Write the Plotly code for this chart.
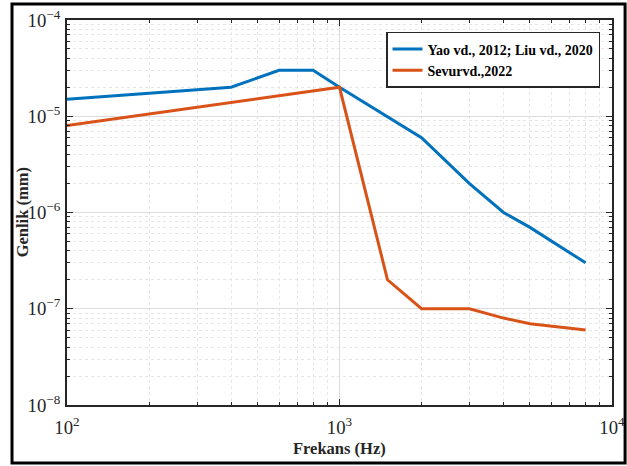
import plotly.graph_objects as go

freq_yao = [100, 400, 600, 800, 1000, 2000, 3000, 4000, 5000, 8000]
amp_yao = [1.5e-5, 2e-5, 3e-5, 3e-5, 2e-5, 6e-6, 2e-6, 1e-6, 7e-7, 3e-7]
freq_sevur = [100, 1000, 1500, 2000, 3000, 4000, 5000, 8000]
amp_sevur = [8e-6, 2e-5, 2e-7, 1e-7, 1e-7, 8e-8, 7e-8, 6e-8]
name_yao = "Yao vd., 2012; Liu vd., 2020"
name_sevur = "Sevurvd.,2022"
x_title = "Frekans (Hz)"
y_title = "Genlik (mm)"

FONT = "Liberation Serif"
fig = go.Figure()
fig.add_trace(go.Scatter(x=freq_yao, y=amp_yao, mode="lines", name="<b>" + name_yao + "</b>",
                         line=dict(color="#0072BD", width=3)))
fig.add_trace(go.Scatter(x=freq_sevur, y=amp_sevur, mode="lines", name="<b>" + name_sevur + "</b>",
                         line=dict(color="#D95319", width=3)))

axis_common = dict(
    type="log", showline=True, linecolor="#262626", linewidth=1.5, mirror="allticks",
    ticks="inside", ticklen=6, tickcolor="#262626", exponentformat="power",
    showgrid=True, gridcolor="#dcdcdc", gridwidth=1, zeroline=False, automargin=False,
    ticklabeloverflow="allow",
    tickfont=dict(family=FONT, size=15, color="#262626"),
    minor=dict(ticks="inside", ticklen=3, tickcolor="#262626", showgrid=True,
               gridcolor="#e6e6e6", griddash="dot", gridwidth=1),
)
fig.update_xaxes(range=[2, 4], dtick=1, ticklabelstandoff=5, **axis_common)
fig.update_yaxes(range=[-8, -4], dtick=1, ticklabelstandoff=2, **axis_common)

fig.update_layout(
    width=627, height=466, margin=dict(l=67, r=15, t=20, b=61),
    paper_bgcolor="white", plot_bgcolor="white",
    font=dict(family=FONT, color="#262626"),
    legend=dict(x=0.978, y=0.969, xanchor="right", yanchor="top",
                bgcolor="white", bordercolor="#262626", borderwidth=1.5,
                font=dict(family=FONT, size=14, color="black"),
                itemwidth=30, tracegroupgap=0, traceorder="normal"),
    shapes=[dict(type="rect", xref="paper", yref="paper", x0=-0.1009, x1=1.024,
                 y0=-0.1506, y1=1.0416, line=dict(color="black", width=3))],
    annotations=[
        dict(text="<b>" + x_title + "</b>", xref="paper", yref="paper", x=0.5, y=-0.112,
             xanchor="center", yanchor="middle", showarrow=False,
             font=dict(family=FONT, size=16.5, color="#262626")),
        dict(text="<b>" + y_title + "</b>", xref="paper", yref="paper", x=-0.081, y=0.5,
             xanchor="center", yanchor="middle", showarrow=False, textangle=-90,
             font=dict(family=FONT, size=16.5, color="#262626")),
    ],
)
fig.write_html("out.html", config={"displayModeBar": False},
               post_script="document.body.style.margin='0';document.body.style.overflow='hidden';")
